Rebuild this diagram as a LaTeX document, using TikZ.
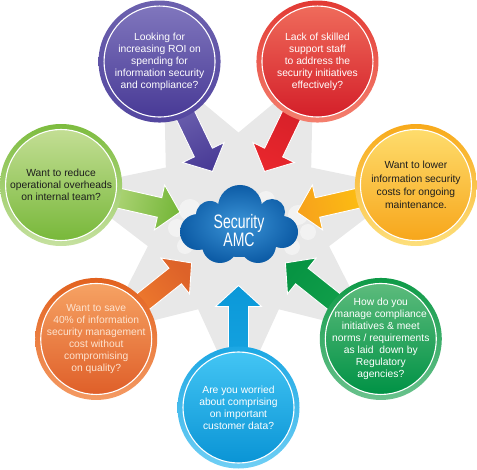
\documentclass[tikz,border=0pt]{standalone}
\usepackage{fontspec}
\setmainfont{Liberation Sans}
\newfontfamily\condfont[FakeStretch=0.72]{Liberation Sans}
\usetikzlibrary{calc}
\definecolor{stargray}{HTML}{E8E8E8}
% purple
\definecolor{puRt}{HTML}{6C61AE}\definecolor{puRb}{HTML}{5447A0}
\definecolor{puFt}{HTML}{8076BD}\definecolor{puFb}{HTML}{483A96}
\definecolor{puAl}{HTML}{6E63B0}\definecolor{puAd}{HTML}{4A3C97}
% red
\definecolor{reRt}{HTML}{E23A34}\definecolor{reRb}{HTML}{F47F6E}
\definecolor{reFt}{HTML}{EF6B5B}\definecolor{reFb}{HTML}{D41F29}
\definecolor{reAl}{HTML}{D42029}\definecolor{reAd}{HTML}{E8262C}
% light green
\definecolor{lgRt}{HTML}{7DBC3F}\definecolor{lgRb}{HTML}{C6E1A0}
\definecolor{lgFt}{HTML}{C3DE94}\definecolor{lgFb}{HTML}{78B83A}
\definecolor{lgAl}{HTML}{B5D87E}\definecolor{lgAd}{HTML}{76B73A}
% yellow
\definecolor{yeRt}{HTML}{F8AA1B}\definecolor{yeRb}{HTML}{FDDF7C}
\definecolor{yeFt}{HTML}{FEDC6C}\definecolor{yeFb}{HTML}{F7A61B}
\definecolor{yeAl}{HTML}{FDC210}\definecolor{yeAd}{HTML}{F7A21C}
% orange
\definecolor{orRt}{HTML}{E2621F}\definecolor{orRb}{HTML}{F49A63}
\definecolor{orFt}{HTML}{F6A263}\definecolor{orFb}{HTML}{DF5F29}
\definecolor{orAl}{HTML}{F07C2E}\definecolor{orAd}{HTML}{DD6229}
\definecolor{orTx}{HTML}{FDE3CF}
% dark green
\definecolor{dgRt}{HTML}{0E9A47}\definecolor{dgRb}{HTML}{6AC28D}
\definecolor{dgFt}{HTML}{5CBB7C}\definecolor{dgFb}{HTML}{009245}
\definecolor{dgAl}{HTML}{12A04B}\definecolor{dgAd}{HTML}{079443}
% blue
\definecolor{blRt}{HTML}{1CA7E3}\definecolor{blRb}{HTML}{70CFF5}
\definecolor{blFt}{HTML}{43C5F4}\definecolor{blFb}{HTML}{0A94D5}
\definecolor{blAl}{HTML}{15A3E0}\definecolor{blAd}{HTML}{0B98D8}
% cloud
\definecolor{clIn}{HTML}{3C95D8}\definecolor{clOut}{HTML}{0D5CA6}
\definecolor{darktext}{HTML}{1E1E1E}

\tikzset{
  bubbletext/.style={align=center, inner sep=0pt, font=\fontsize{10.3}{12}\selectfont},
  cloudtext/.style={align=center, inner sep=0pt, text=white, font=\condfont\fontsize{19.5}{18}\selectfont},
  arrowbody/.style={draw=white, line width=0.9pt, line join=miter},
}

\newcommand\myarrow[3]{%
  \pgfmathsetmacro\myang{#1-90}%
  \begin{scope}[shift={(C)}, rotate=#1]
    \shade[arrowbody, top color=#2, bottom color=#3, shading angle=\myang]
      (140,10) -- (81,10) -- (81,23) -- (60,0) -- (81,-23) -- (81,-10) -- (140,-10) -- cycle;
  \end{scope}}

\newcommand\mybubble[8]{%
  \coordinate (#1c) at ($(C)+(#2:182)$);
  \shade[top color=#3, bottom color=#4] (#1c) circle[radius=61pt];
  \shade[top color=#5, bottom color=#6] (#1c) circle[radius=55.5pt];
  \draw[white, line width=1.1pt] (#1c) circle[radius=55.5pt];
  \node[bubbletext, text=#7] (#1) at (#1c) {#8};}

\begin{document}
\begin{tikzpicture}[x=1pt,y=1pt]
\useasboundingbox (0,0) rectangle (477,469);
\coordinate (C) at (238.5,243.5);
% grey star
\fill[stargray, shift={(C)}] (-90:172)
  \foreach \k in {0,...,6} { -- ({-64.2857+51.4286*\k}:93) -- ({-38.5714+51.4286*\k}:172)} -- cycle;
% faint white clouds
\fill[white, opacity=0.45] (190,259) circle[radius=11pt] (177,241) circle[radius=9pt]
  (298,254) circle[radius=10pt] (308,237) circle[radius=8pt] (266,269) circle[radius=9pt]
  (185,223) circle[radius=8pt] (292,222) circle[radius=8pt];
% arrows
\myarrow{-90}{blAl}{blAd}
\myarrow{-38.5714}{dgAl}{dgAd}
\myarrow{12.8571}{yeAl}{yeAd}
\myarrow{64.2857}{reAl}{reAd}
\myarrow{115.7143}{puAl}{puAd}
\myarrow{167.1429}{lgAl}{lgAd}
\myarrow{218.5714}{orAl}{orAd}
% bubbles
\mybubble{roi}{115.7143}{puRt}{puRb}{puFt}{puFb}{white}{Looking for\\increasing ROI on\\spending for\\information security\\and compliance?}
\mybubble{staff}{64.2857}{reRt}{reRb}{reFt}{reFb}{white}{Lack of skilled\\support staff\\to address the\\security initiatives\\effectively?}
\mybubble{overheads}{167.1429}{lgRt}{lgRb}{lgFt}{lgFb}{darktext}{Want to reduce\\operational overheads\\on internal team?}
\mybubble{costs}{12.8571}{yeRt}{yeRb}{yeFt}{yeFb}{darktext}{Want to lower\\[1.3pt]information security\\[1.3pt]costs for ongoing\\[1.3pt]maintenance.}
\mybubble{save}{218.5714}{orRt}{orRb}{orFt}{orFb}{orTx}{Want to save\\40\% of information\\security management\\cost without\\compromising\\on quality?}
\mybubble{compliance}{-38.5714}{dgRt}{dgRb}{dgFt}{dgFb}{white}{How do you\\manage compliance\\initiatives \& meet\\norms / requirements\\as laid\ \ down by\\Regulatory\\agencies?}
\mybubble{data}{-90}{blRt}{blRb}{blFt}{blFb}{white}{Are you worried\\about comprising\\on important\\customer data?}
% cloud
\shade[inner color=clIn, outer color=clOut]
  (240,262) circle[radius=22pt] (210,254) circle[radius=14pt] (272,257) circle[radius=13pt]
  (198,237) circle[radius=18pt] (282,237) circle[radius=16pt]
  (220,224) circle[radius=18pt] (258,224) circle[radius=18pt]
  (240,234) ellipse[x radius=40pt, y radius=22pt];
\node[cloudtext] (cloud) at (239,238) {Security\\AMC};
\end{tikzpicture}
\end{document}
